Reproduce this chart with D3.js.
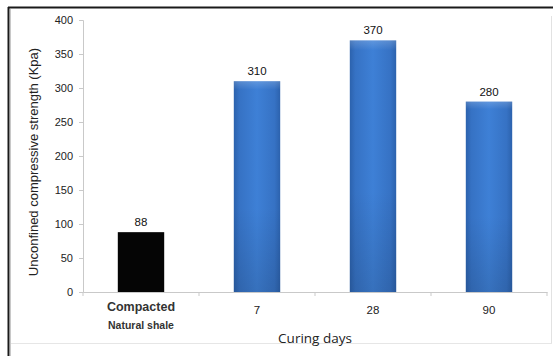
<!DOCTYPE html>
<html>
<head>
<meta charset="utf-8">
<script src="https://cdn.jsdelivr.net/npm/d3@7"></script>
<style>
  html, body { margin: 0; padding: 0; background: #fff; }
  svg { display: block; }
  text { font-family: "Liberation Sans", Arial, sans-serif; fill: #222; }
</style>
</head>
<body>
<svg id="chart" width="555" height="356"></svg>
<script>
// Unconfined compressive strength by curing period
const categories = ["Compacted\nNatural shale", "7", "28", "90"];
const strengths = [88, 310, 370, 280];
const barKinds = ["plain", "treated", "treated", "treated"];
const yTicks = [0, 50, 100, 150, 200, 250, 300, 350, 400];

const svg = d3.select("#chart");
const W = 555, H = 356;
const margin = { left: 83, right: 8, top: 20, bottom: 64 };

// outer frame
svg.append("line").attr("x1", 8).attr("x2", 553).attr("y1", 7.5).attr("y2", 7.5)
  .attr("stroke", "#1a1a1a").attr("stroke-width", 2);
svg.append("line").attr("x1", 8.5).attr("x2", 8.5).attr("y1", 7).attr("y2", H)
  .attr("stroke", "#1a1a1a").attr("stroke-width", 2);
svg.append("line").attr("x1", 10.5).attr("x2", 10.5).attr("y1", 9).attr("y2", H)
  .attr("stroke", "#c8c8c8").attr("stroke-width", 1);
svg.append("line").attr("x1", 551.5).attr("x2", 551.5).attr("y1", 16).attr("y2", 344)
  .attr("stroke", "#e2e2e2").attr("stroke-width", 1);
svg.append("line").attr("x1", 11).attr("x2", 552).attr("y1", 343.5).attr("y2", 343.5)
  .attr("stroke", "#e6e6e6").attr("stroke-width", 1);

const x = d3.scaleBand()
  .domain(categories)
  .range([margin.left, 547])
  .paddingInner(0.6)
  .paddingOuter(0.3);

const y = d3.scaleLinear()
  .domain([0, 400])
  .range([292, margin.top]);

// gradients for the bars
const defs = svg.append("defs");
const gH = defs.append("linearGradient").attr("id", "blueH")
  .attr("x1", "0").attr("x2", "1").attr("y1", "0").attr("y2", "0");
gH.append("stop").attr("offset", "0%").attr("stop-color", "#2c62ad");
gH.append("stop").attr("offset", "12%").attr("stop-color", "#3672c4");
gH.append("stop").attr("offset", "50%").attr("stop-color", "#3e80d6");
gH.append("stop").attr("offset", "88%").attr("stop-color", "#3672c4");
gH.append("stop").attr("offset", "100%").attr("stop-color", "#2c62ad");
const gV = defs.append("linearGradient").attr("id", "shadeV")
  .attr("x1", "0").attr("x2", "0").attr("y1", "0").attr("y2", "1");
gV.append("stop").attr("offset", "0%").attr("stop-color", "#ffffff").attr("stop-opacity", 0.18);
gV.append("stop").attr("offset", "4%").attr("stop-color", "#ffffff").attr("stop-opacity", 0.0);
gV.append("stop").attr("offset", "60%").attr("stop-color", "#000000").attr("stop-opacity", 0.0);
gV.append("stop").attr("offset", "100%").attr("stop-color", "#000000").attr("stop-opacity", 0.12);

// axes
const yAxis = svg.append("g")
  .attr("transform", `translate(${margin.left},0)`)
  .call(d3.axisLeft(y).tickValues(yTicks).tickSize(4).tickPadding(6));
yAxis.select(".domain").attr("stroke", "#c9c9c9");
yAxis.selectAll(".tick line").attr("stroke", "#c9c9c9");
yAxis.selectAll(".tick text")
  .style("font-size", "11px").style("fill", "#222");

const xAxis = svg.append("g")
  .attr("transform", `translate(0,${y(0)})`)
  .call(d3.axisBottom(x).tickSize(0).tickFormat(""));
xAxis.select(".domain").attr("stroke", "#c9c9c9");

// category boundary ticks
const bounds = d3.range(categories.length + 1).map(i => margin.left + i * x.step());
svg.append("g").selectAll("line").data(bounds).join("line")
  .attr("x1", d => d).attr("x2", d => d)
  .attr("y1", y(0)).attr("y2", y(0) + 4)
  .attr("stroke", "#c9c9c9");

// bars
const bars = svg.append("g");
categories.forEach((c, i) => {
  const bx = x(c), bw = x.bandwidth(), top = y(strengths[i]), h = y(0) - top;
  if (barKinds[i] === "plain") {
    bars.append("rect").attr("x", bx).attr("y", top).attr("width", bw).attr("height", h)
      .attr("fill", "#050505");
  } else {
    bars.append("rect").attr("x", bx).attr("y", top).attr("width", bw).attr("height", h)
      .attr("fill", "url(#blueH)");
    bars.append("rect").attr("x", bx).attr("y", top).attr("width", bw).attr("height", h)
      .attr("fill", "url(#shadeV)");
  }
});

// value labels
svg.append("g").selectAll("text").data(strengths).join("text")
  .attr("x", (d, i) => x(categories[i]) + x.bandwidth() / 2)
  .attr("y", d => y(d) - 6)
  .attr("text-anchor", "middle")
  .style("font-size", "11.5px").style("fill", "#111")
  .text(d => d);

// category labels
const catG = svg.append("g");
categories.forEach((c, i) => {
  const lines = c.split("\n");
  const cx = x(c) + x.bandwidth() / 2;
  if (lines.length === 1) {
    catG.append("text").attr("x", cx).attr("y", 314).attr("text-anchor", "middle")
      .style("font-size", "11.5px").style("fill", "#222").text(lines[0]);
  } else {
    catG.append("text").attr("x", cx).attr("y", 311).attr("text-anchor", "middle")
      .style("font-size", "12.5px").style("font-weight", "bold").style("fill", "#333").text(lines[0]);
    catG.append("text").attr("x", cx).attr("y", 329).attr("text-anchor", "middle")
      .style("font-size", "10.5px").style("font-weight", "bold").style("fill", "#333").text(lines[1]);
  }
});

// axis titles
svg.append("text")
  .attr("x", (margin.left + 547) / 2).attr("y", 343)
  .attr("text-anchor", "middle")
  .style("font-family", "'Open Sans', sans-serif")
  .style("font-size", "13.5px").style("fill", "#222")
  .text("Curing days");

svg.append("text")
  .attr("transform", `translate(38,162) rotate(-90)`)
  .attr("text-anchor", "middle")
  .style("font-size", "13px").style("fill", "#222")
  .text("Unconfined compressive strength (Kpa)");
</script>
</body>
</html>
